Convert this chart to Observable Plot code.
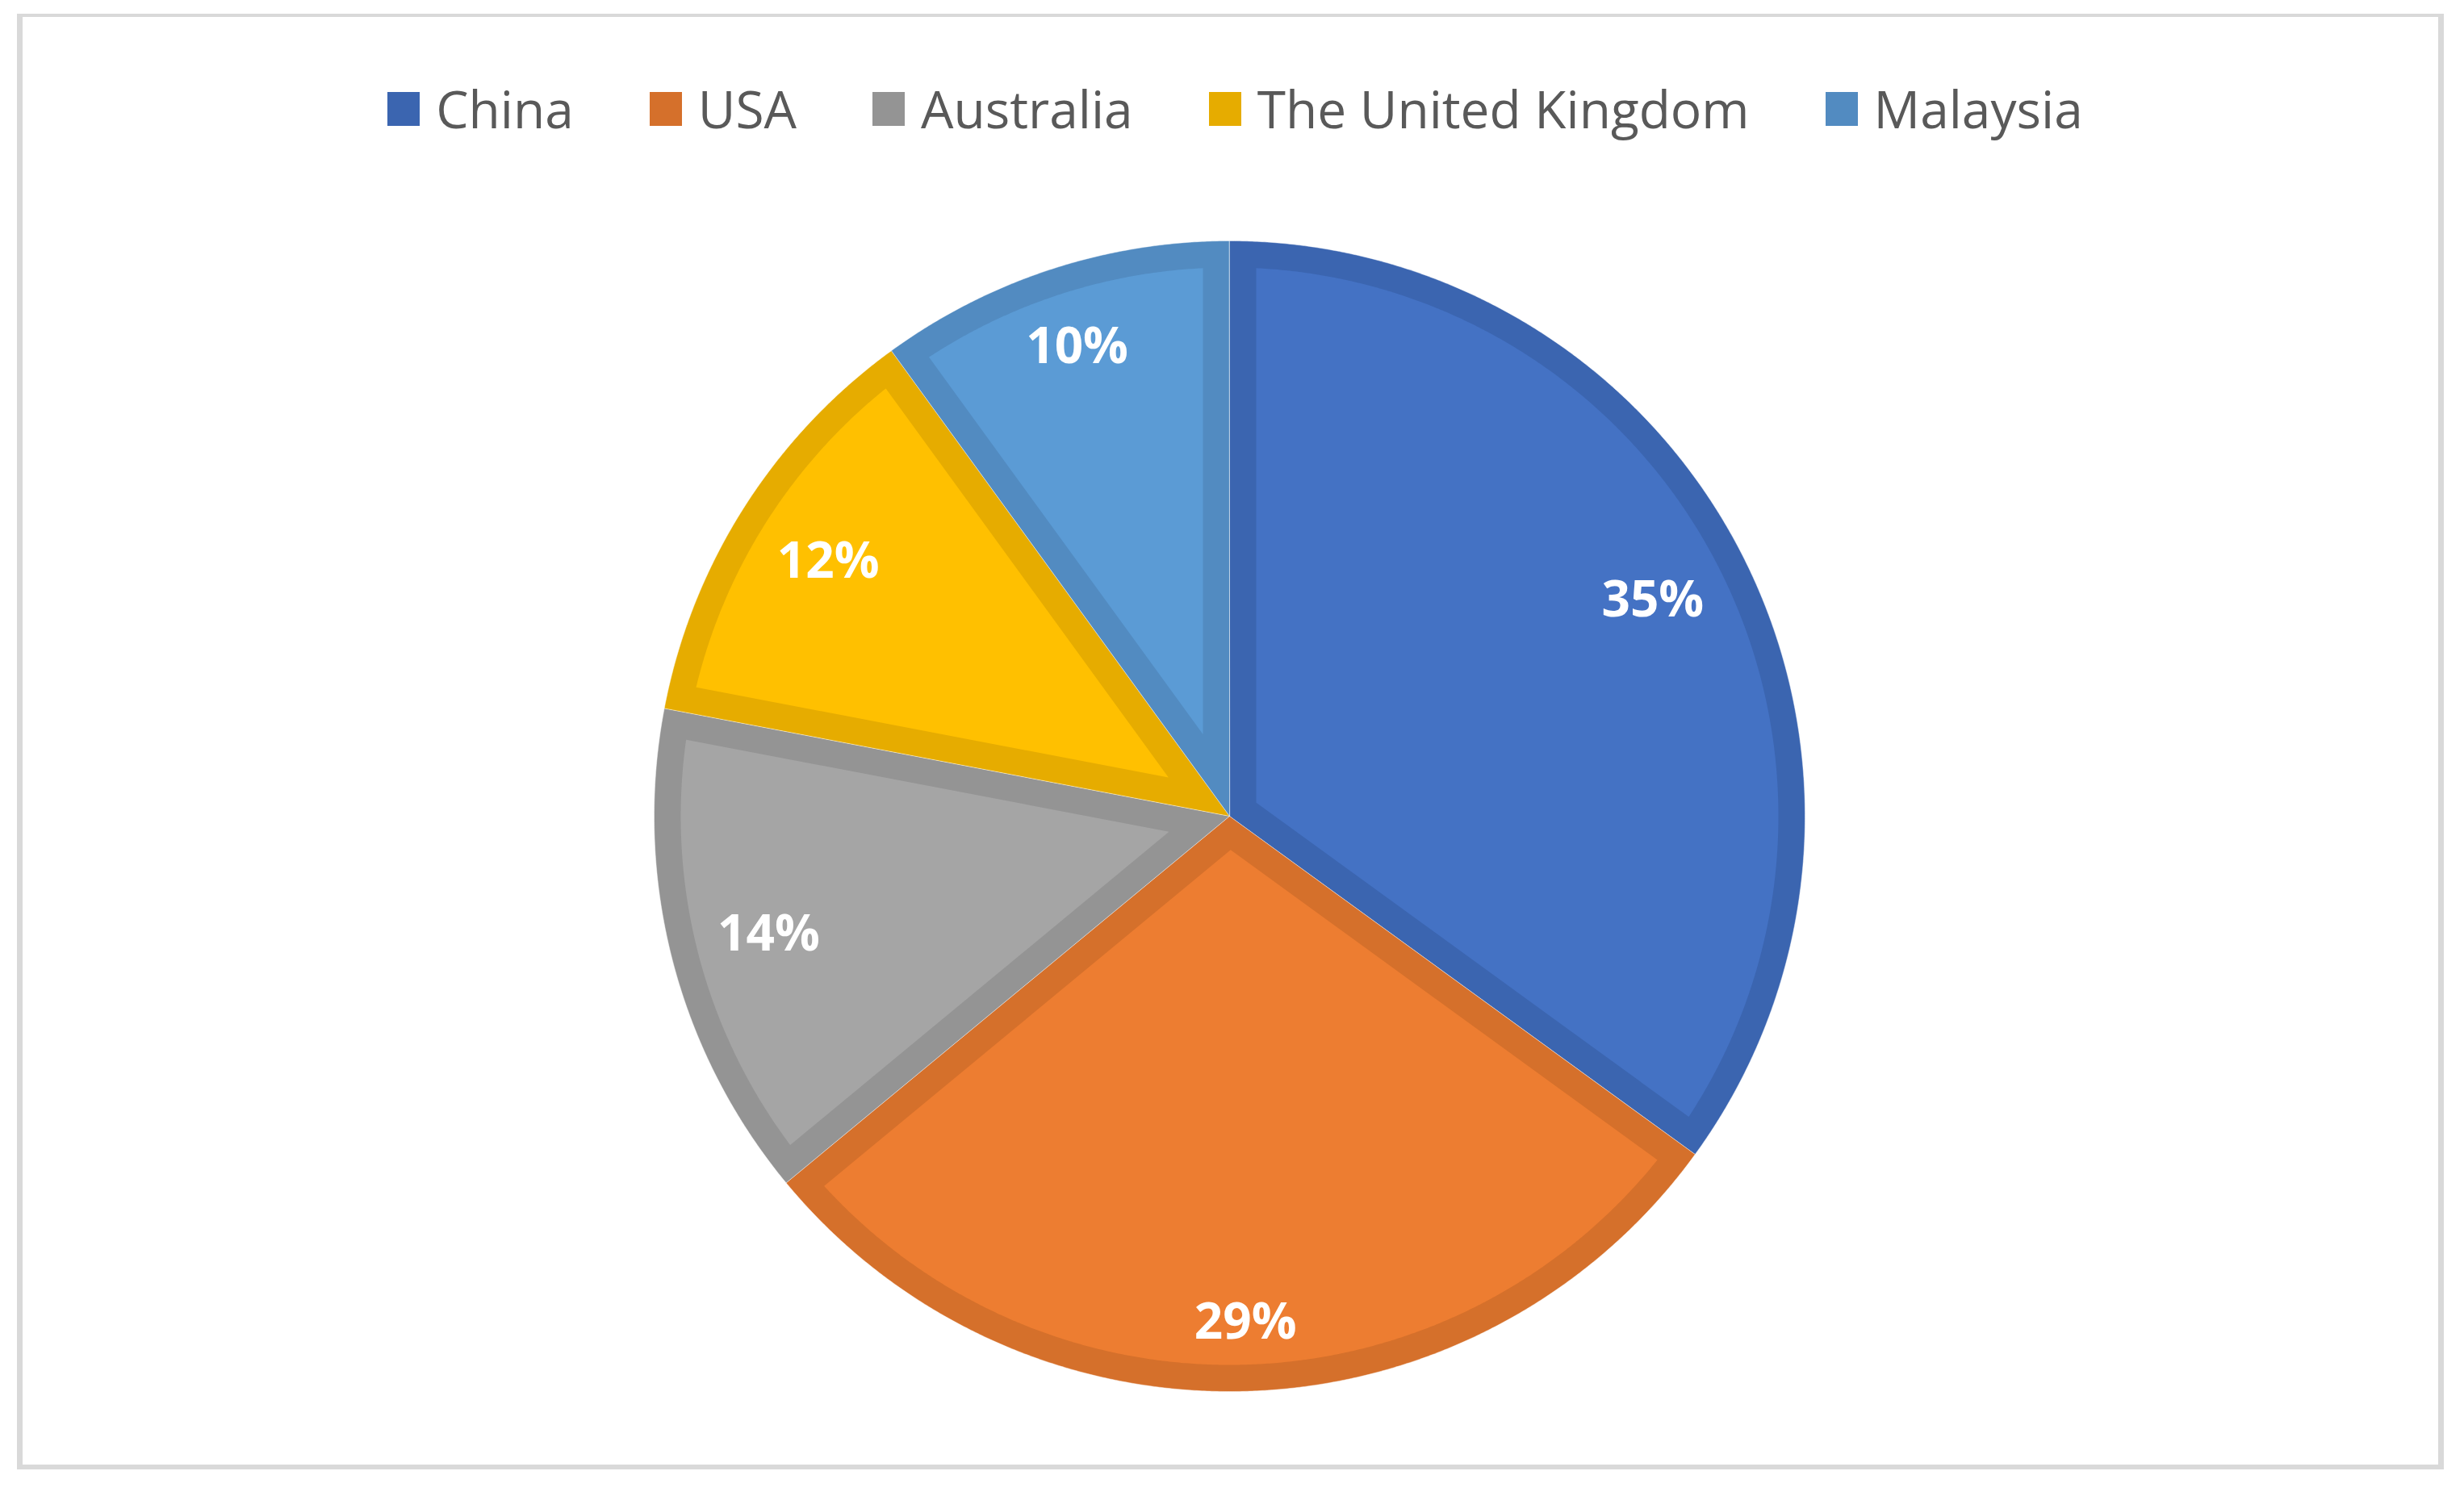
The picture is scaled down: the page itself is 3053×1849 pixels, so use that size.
<!DOCTYPE html>
<html>
<head>
<meta charset="utf-8">
<script src="https://cdn.jsdelivr.net/npm/d3@7"></script>
<script src="https://cdn.jsdelivr.net/npm/@observablehq/plot@0.6"></script>
<style>
  html, body { margin: 0; padding: 0; background: #fff; }
  #wrap { position: relative; width: 3053px; height: 1849px; overflow: hidden; font-family: "Open Sans", sans-serif; }
  #frame { position: absolute; left: 21px; top: 17px; width: 2993px; height: 1794px;
           border-style: solid; border-color: #D9D9D9; border-width: 4px 7px 6px 7px; pointer-events: none; }
  #legend { height: 270px; display: flex; justify-content: center; align-items: center; padding-left: 8px; box-sizing: border-box; }
  .item { display: flex; align-items: center; margin: 0 47px; }
  .sw { width: 40px; height: 42px; margin-right: 20px; }
  .lab { font-size: 64px; color: #595959; line-height: 1; }
  #chart svg { display: block; }
</style>
</head>
<body>
<div id="wrap">
  <div id="legend"></div>
  <div id="chart"></div>
  <div id="frame"></div>
</div>
<script>
// ---- data ----
const countries = ["China", "USA", "Australia", "The United Kingdom", "Malaysia"];
const shares = [35, 29, 14, 12, 10];
const labels = ["35%", "29%", "14%", "12%", "10%"];
const fillColors = ["#4472C4", "#ED7D31", "#A5A5A5", "#FFC000", "#5B9BD5"];
const edgeColors = ["#3B65B0", "#D5702B", "#949494", "#E6AC00", "#528BC1"];

// ---- layout constants (pixels) ----
const W = 3053, H = 1579;
const CX = 1523, CY = 741, R = 713;
const inset = 33 / R;

// legend
const legend = document.getElementById("legend");
countries.forEach((c, i) => {
  const it = document.createElement("div");
  it.className = "item";
  it.innerHTML = `<div class="sw" style="background:${edgeColors[i]}"></div><div class="lab">${c}</div>`;
  legend.appendChild(it);
});

// pie geometry derived from data
const arcs = d3.pie().sort(null).value(d => d)(shares);
const pt = (a, r) => ({x: r * Math.sin(a), y: r * Math.cos(a)});
const outerRows = [], innerRows = [];
const step = Math.PI / 720;
arcs.forEach((s, i) => {
  const a0 = s.startAngle, a1 = s.endAngle;
  const outer = [pt(0, 0)];
  for (let a = a0; a < a1; a += step) outer.push(pt(a, 1));
  outer.push(pt(a1, 1));
  outer.forEach(p => outerRows.push({...p, key: i, color: edgeColors[i]}));
  const h = (a1 - a0) / 2;
  const rr = 1 - inset;
  const del = Math.asin(inset / rr);
  const inner = [pt((a0 + a1) / 2, inset / Math.sin(h))];
  for (let a = a0 + del; a < a1 - del; a += step) inner.push(pt(a, rr));
  inner.push(pt(a1 - del, rr));
  inner.forEach(p => innerRows.push({...p, key: i, color: fillColors[i]}));
});

// labels
const hw = 65 / R, hh = 30 / R, Rl = 660 / R;
const labelRows = arcs.map((s, i) => {
  const m = (s.startAngle + s.endAngle) / 2;
  const r = Rl - (Math.abs(Math.sin(m)) * hw + Math.abs(Math.cos(m)) * hh);
  return {...pt(m, r), text: labels[i]};
});

const chart = Plot.plot({
  width: W,
  height: H,
  margin: 0,
  x: {domain: [-CX / R, (W - CX) / R], range: [0, W], axis: null},
  y: {domain: [(CY - H) / R, CY / R], range: [H, 0], axis: null},
  color: {type: "identity"},
  style: {background: "transparent", overflow: "visible"},
  marks: [
    Plot.line(outerRows, {x: "x", y: "y", z: "key", fill: "color", stroke: "white", strokeWidth: 1, strokeOpacity: 0.45, curve: "linear-closed"}),
    Plot.line(innerRows, {x: "x", y: "y", z: "key", fill: "color", stroke: "none", curve: "linear-closed"}),
    Plot.text(labelRows, {x: "x", y: "y", text: "text", fill: "white", fontSize: 62, fontWeight: "bold", fontFamily: "Open Sans"})
  ]
});
document.getElementById("chart").appendChild(chart);
</script>
</body>
</html>
